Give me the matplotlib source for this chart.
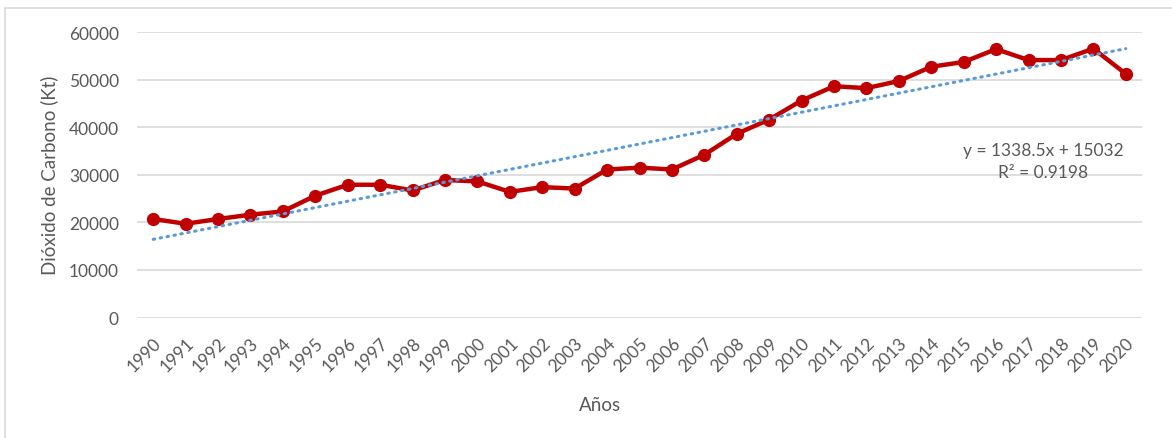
import numpy as np
import matplotlib.pyplot as plt
from matplotlib.lines import Line2D

# Data
years = list(range(1990, 2021))
co2 = [20700, 19700, 20700, 21600, 22300, 25600, 27900, 27900, 26700, 28900,
       28600, 26400, 27400, 27100, 31100, 31500, 31100, 34200, 38600, 41600,
       45600, 48600, 48200, 49700, 52700, 53700, 56400, 54100, 54100, 56500,
       51200]
yticks = [0, 10000, 20000, 30000, 40000, 50000, 60000]
eq_text = "y = 1338.5x + 15032\nR² = 0.9198"

plt.rcParams['font.family'] = ['Lato', 'DejaVu Sans']
gray = '#595959'

W, H = 1172, 439
fig = plt.figure(figsize=(W / 100, H / 100), dpi=100)
ax = fig.add_axes([137 / W, 1 - 318.5 / H, (1142 - 137) / W, (318.5 - 33) / H])

idx = np.arange(len(years))

# Linear trendline (Excel style: x = 1..n)
coef = np.polyfit(idx + 1, co2, 1)
trend = np.polyval(coef, idx + 1)
ax.plot(idx, trend, color='#5b9bd5', linewidth=2.2, linestyle=(0, (0.5, 1.8)),
        dash_capstyle='round', zorder=4)

# Main series
ax.plot(idx, co2, color='#c00000', linewidth=3.2, marker='o', markersize=8.5,
        zorder=3)

ax.set_xlim(-0.5, len(years) - 0.5)
ax.set_ylim(0, 60000)
ax.set_yticks(yticks)
ax.set_yticklabels([str(v) for v in yticks], fontsize=12.5, color=gray)
ax.set_xticks(idx)
ax.set_xticklabels([str(y) for y in years], rotation=45, ha='right',
                   rotation_mode='anchor', fontsize=12.5, color=gray)
ax.tick_params(axis='y', length=0, pad=13)
ax.tick_params(axis='x', length=0, pad=12)
ax.grid(axis='y', color='#d9d9d9', linewidth=1.2)
ax.set_axisbelow(True)
for s in ax.spines.values():
    s.set_visible(False)

ax.set_ylabel('Dióxido de Carbono (Kt)', fontsize=13.5, color=gray, labelpad=8)
fig.text(600 / W, 1 - 406 / H, 'Años', fontsize=13.5, color=gray,
         ha='center', va='center')

ax.text(1043 / W, 1 - 162 / H, eq_text, transform=fig.transFigure,
        fontsize=12.5, color=gray, ha='center', va='center', linespacing=1.5)

# Outer chart border (partially visible)
fig.add_artist(Line2D([4.5 / W, 4.5 / W], [0, 1 - 9 / H], color='#d9d9d9',
                      linewidth=1.2, transform=fig.transFigure))
fig.add_artist(Line2D([4.5 / W, 1], [1 - 9 / H, 1 - 9 / H], color='#d9d9d9',
                      linewidth=1.2, transform=fig.transFigure))

fig.savefig('out.png', dpi=100)
